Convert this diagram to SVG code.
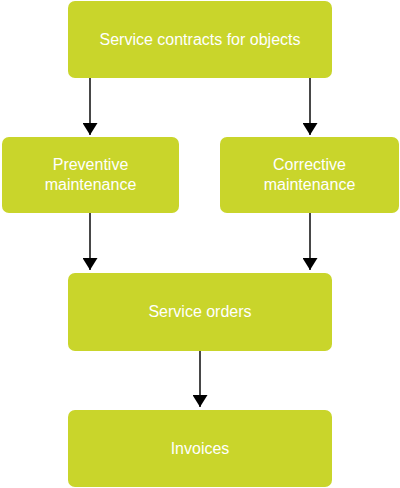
<svg xmlns="http://www.w3.org/2000/svg" width="400" height="488" viewBox="0 0 400 488">
<style>
.box{fill:#c9d52b;}
.lbl{font-family:"Liberation Sans",Arial,sans-serif;font-size:16px;fill:#ffffff;text-anchor:middle;}
.conn{stroke:#1a1a1a;stroke-width:1.6;fill:none;marker-end:url(#ah);}
</style>
<defs>
<marker id="ah" markerWidth="12" markerHeight="15" refX="12" refY="7.5" orient="auto" markerUnits="userSpaceOnUse" viewBox="0 0 12 15">
<path d="M0,0 L12,7.5 L0,15 Z" fill="#000"/>
</marker>
</defs>
<g id="connectors">
<path class="conn" d="M90,78 V135"/>
<path class="conn" d="M310,78 V135"/>
<path class="conn" d="M90,213 V270"/>
<path class="conn" d="M310,213 V270"/>
<path class="conn" d="M200,351 V407"/>
</g>
<g id="n1">
<rect class="box" x="68" y="1" width="264" height="77" rx="7"/>
<text class="lbl" x="200" y="44.5">Service contracts for objects</text>
</g>
<g id="n2">
<rect class="box" x="2" y="137" width="177" height="76" rx="7"/>
<text class="lbl" x="90.5" y="170">Preventive</text>
<text class="lbl" x="90.5" y="190">maintenance</text>
</g>
<g id="n3">
<rect class="box" x="220" y="137" width="179" height="76" rx="7"/>
<text class="lbl" x="309.5" y="170">Corrective</text>
<text class="lbl" x="309.5" y="190">maintenance</text>
</g>
<g id="n4">
<rect class="box" x="68" y="273" width="264" height="78" rx="7"/>
<text class="lbl" x="200" y="316.5">Service orders</text>
</g>
<g id="n5">
<rect class="box" x="68" y="410" width="264" height="77" rx="7"/>
<text class="lbl" x="200" y="453.5">Invoices</text>
</g>
</svg>
